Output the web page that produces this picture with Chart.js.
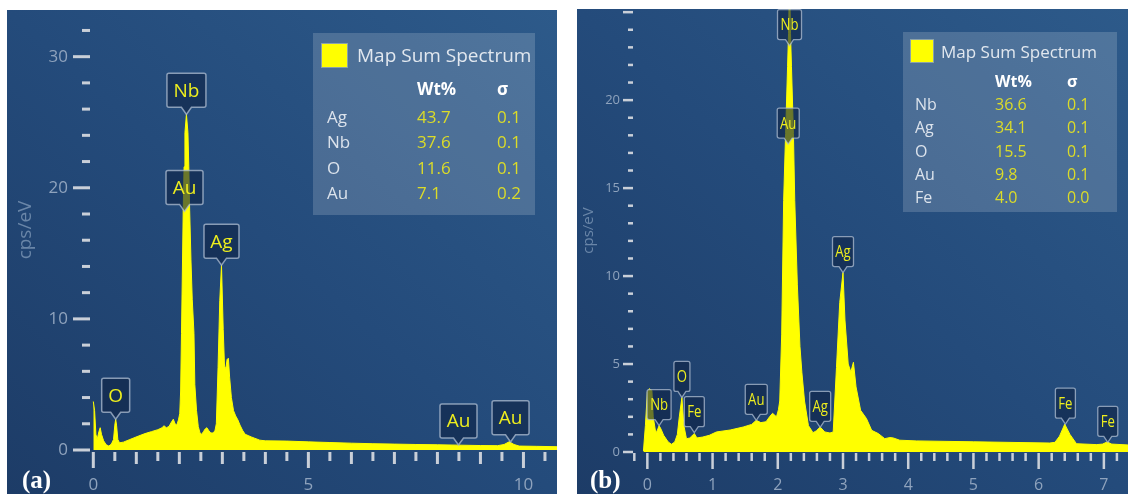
<!DOCTYPE html>
<html>
<head>
<meta charset="utf-8">
<script src="https://cdn.jsdelivr.net/npm/chart.js@4.4.1/dist/chart.umd.min.js"></script>
<style>
  html, body { margin: 0; padding: 0; background: #fff; }
  body { width: 1128px; height: 494px; position: relative; overflow: hidden; font-family: 'Open Sans', sans-serif; }
  .panel { position: absolute; overflow: hidden; background: linear-gradient(to bottom left, #2d5a8a 0%, #244b7b 50%, #1d3c67 100%); }
  .panel canvas { position: absolute; left: 0; top: 0; }
  .legend { position: absolute; background: rgba(255,255,255,0.17); }
  .legend .sw { position: absolute; background: #ffff00; box-shadow: 0 0 0 1px rgba(255,255,200,0.35); }
  .legend span { position: absolute; white-space: nowrap; transform: translateY(-50%); line-height: 1.2; }
  .legend .ttl { color: #e2e8ef; }
  .legend .hd { color: #ffffff; font-weight: bold; }
  .legend .el { color: #dce3ec; }
  .legend .val { color: #dcdc28; }
  .tag { position: absolute; font-family: 'Liberation Serif', 'DejaVu Serif', serif; font-weight: bold; color: #ffffff; white-space: nowrap; }
</style>
</head>
<body>

<div class="panel" id="pa" style="left:7px;top:10px;width:550px;height:484px;">
  <canvas id="ca" width="550" height="484"></canvas>
  <div class="legend" id="la" style="left:306px;top:23px;width:222px;height:182px;"></div>
  <div class="tag" style="left:15px;top:457px;font-size:25px;line-height:25px;">(a)</div>
</div>

<div class="panel" id="pb" style="left:577px;top:9px;width:551px;height:485px;">
  <canvas id="cb" width="551" height="485"></canvas>
  <div class="legend" id="lb" style="left:326px;top:23px;width:214px;height:180px;"></div>
  <div class="tag" style="left:13px;top:458px;font-size:25px;line-height:25px;">(b)</div>
</div>

<script>
// ---------- Spectrum (a) ----------
const energyA = [0.00, 0.03, 0.06, 0.09, 0.13, 0.16, 0.19, 0.24, 0.30, 0.36, 0.42, 0.47, 0.50, 0.52, 0.54, 0.57,
  0.61, 0.70, 0.85, 1.04, 1.20, 1.35, 1.50, 1.60, 1.64, 1.70, 1.76, 1.82, 1.86, 1.90, 1.94, 1.98,
  2.01, 2.03, 2.05, 2.07, 2.09, 2.11, 2.13, 2.165, 2.20, 2.22, 2.24, 2.27, 2.30, 2.34, 2.36, 2.40,
  2.44, 2.48, 2.52, 2.56, 2.60, 2.64, 2.68, 2.73, 2.79, 2.83, 2.86, 2.90, 2.94, 2.98, 3.02, 3.05,
  3.08, 3.11, 3.14, 3.17, 3.21, 3.26, 3.31, 3.36, 3.41, 3.47, 3.53, 3.60, 3.67, 3.75, 3.87, 4.00,
  4.50, 5.00, 5.50, 6.00, 6.50, 7.00, 7.50, 8.00, 8.50, 9.00, 9.40, 9.55, 9.67, 9.78, 9.90, 10.30, 10.80];
const cpsA = [3.7, 3.0, 1.2, 0.8, 1.4, 1.7, 1.2, 0.7, 0.4, 0.3, 0.45, 0.8, 1.9, 2.35, 1.9, 0.8,
  0.55, 0.6, 0.8, 1.05, 1.25, 1.4, 1.55, 1.7, 1.85, 1.7, 1.8, 2.15, 2.35, 2.0, 1.9, 2.3,
  2.8, 4.5, 8.9, 13.5, 18.3, 21.6, 24.2, 25.6, 24.2, 21.6, 18.3, 14.5, 11.5, 8.9, 5.0, 3.0,
  1.8, 1.3, 1.2, 1.4, 1.6, 1.7, 1.5, 1.3, 1.3, 1.5, 2.0, 6.3, 11.4, 14.1, 9.2, 6.4,
  6.2, 6.9, 7.0, 5.5, 4.0, 3.0, 2.6, 2.3, 1.9, 1.5, 1.2, 1.1, 1.0, 0.9, 0.75, 0.7,
  0.68, 0.62, 0.57, 0.52, 0.48, 0.45, 0.42, 0.40, 0.37, 0.34, 0.33, 0.42, 0.63, 0.42, 0.30, 0.28, 0.25];

// element line markers (a): name, energy (keV), height (cps/eV) of the pointer tip
const tagNamesA  = ['O', 'Nb', 'Au', 'Ag', 'Au', 'Au'];
const tagEnergyA = [0.52, 2.165, 2.12, 2.98, 8.49, 9.70];
const tagCpsA    = [2.35, 25.6, 18.2, 14.1, 0.38, 0.62];

// quantification table (a)
const tableElemA  = ['Ag', 'Nb', 'O', 'Au'];
const tableWtA    = ['43.7', '37.6', '11.6', '7.1'];
const tableSigmaA = ['0.1', '0.1', '0.1', '0.2'];

// axis labels (a)
const xLabelsA = [0, 5, 10];
const yLabelsA = [0, 10, 20, 30];

// ---------- Spectrum (b) ----------
const energyB = [-0.06, -0.03, 0.00, 0.03, 0.07, 0.09, 0.12, 0.14, 0.18, 0.21, 0.25, 0.32, 0.37, 0.42, 0.46, 0.49,
  0.53, 0.56, 0.60, 0.65, 0.68, 0.72, 0.76, 0.85, 0.95, 1.06, 1.27, 1.47, 1.60, 1.67, 1.74, 1.82,
  1.88, 1.92, 1.98, 2.01, 2.03, 2.06, 2.09, 2.12, 2.15, 2.165, 2.18, 2.195, 2.21, 2.24, 2.26, 2.30,
  2.34, 2.37, 2.41, 2.47, 2.54, 2.59, 2.65, 2.72, 2.80, 2.85, 2.90, 2.95, 3.00, 3.03, 3.08, 3.12,
  3.16, 3.20, 3.27, 3.36, 3.44, 3.54, 3.64, 3.72, 3.77, 3.87, 4.13, 5.00, 6.17, 6.25, 6.32, 6.40,
  6.48, 6.58, 6.89, 6.98, 7.05, 7.12, 7.37];
const cpsB = [0.05, 1.5, 3.4, 3.6, 3.5, 2.0, 1.3, 1.1, 1.5, 1.3, 0.95, 0.57, 0.44, 0.57, 1.0, 2.0,
  3.1, 1.5, 0.75, 0.8, 0.9, 1.05, 0.8, 0.85, 0.95, 1.14, 1.25, 1.42, 1.57, 1.8, 1.67, 1.72,
  2.03, 2.2, 2.0, 2.4, 2.9, 6.7, 14.3, 18.1, 21.9, 23.8, 27.0, 23.8, 21.9, 18.1, 14.3, 9.5,
  6.0, 4.5, 2.9, 1.5, 1.1, 1.2, 1.42, 1.14, 1.08, 1.14, 4.8, 8.5, 10.2, 7.5, 5.0, 4.55,
  5.1, 3.7, 2.37, 1.9, 1.23, 1.05, 0.76, 0.82, 0.8, 0.67, 0.63, 0.58, 0.51, 0.55, 0.9, 1.58,
  1.0, 0.47, 0.42, 0.45, 0.57, 0.45, 0.40];

// element line markers (b)
const tagNamesB  = ['Nb', 'O', 'Fe', 'Au', 'Nb', 'Au', 'Ag', 'Ag', 'Fe', 'Fe'];
const tagEnergyB = [0.18, 0.53, 0.72, 1.67, 2.18, 2.16, 2.65, 3.00, 6.41, 7.06];
const tagCpsB    = [1.5, 3.1, 1.1, 1.8, 23.1, 17.5, 1.4, 10.2, 1.58, 0.55];

// quantification table (b)
const tableElemB  = ['Nb', 'Ag', 'O', 'Au', 'Fe'];
const tableWtB    = ['36.6', '34.1', '15.5', '9.8', '4.0'];
const tableSigmaB = ['0.1', '0.1', '0.1', '0.1', '0.0'];

// axis labels (b)
const xLabelsB = [0, 1, 2, 3, 4, 5, 6, 7];
const yLabelsB = [0, 5, 10, 15, 20];

// ---------- shared styling ----------
const FONT = "'Open Sans', 'Noto Sans', sans-serif";
const TICK_LABEL = '#8fa3bd';
const TITLE_COLOR = '#6a86a8';
const TICK_MARK = '#c9cfd8';
const SPECTRUM = '#ffff00';

function tickMarksPlugin(cfg) {
  return {
    id: 'tickMarks',
    afterDraw(chart) {
      const { ctx, chartArea: a, scales: { x, y } } = chart;
      ctx.save();
      ctx.fillStyle = TICK_MARK;
      x.ticks.forEach(t => {
        const px = x.getPixelForValue(t.value);
        const len = cfg.xTickLen(t.value);
        ctx.fillRect(px - cfg.xTickW / 2, a.bottom + cfg.xTickGap, cfg.xTickW, len);
      });
      y.ticks.forEach(t => {
        const py = y.getPixelForValue(t.value);
        const len = cfg.yTickLen(t.value);
        ctx.fillRect(a.left - len, py - cfg.yTickW / 2, len, cfg.yTickW);
      });
      ctx.restore();
    }
  };
}

function drawTag(ctx, x, y, text, st) {
  ctx.save();
  ctx.font = st.font;
  const tw = ctx.measureText(text).width * st.sx;
  const w = Math.round(tw + 2 * st.padX), h = st.h;
  const bottom = y - st.ph, top = bottom - h;
  const left = x - w / 2, right = x + w / 2, r = 2;
  ctx.beginPath();
  ctx.moveTo(left + r, top);
  ctx.lineTo(right - r, top);
  ctx.quadraticCurveTo(right, top, right, top + r);
  ctx.lineTo(right, bottom - r);
  ctx.quadraticCurveTo(right, bottom, right - r, bottom);
  ctx.lineTo(x + st.pw, bottom);
  ctx.lineTo(x, y);
  ctx.lineTo(x - st.pw, bottom);
  ctx.lineTo(left + r, bottom);
  ctx.quadraticCurveTo(left, bottom, left, bottom - r);
  ctx.lineTo(left, top + r);
  ctx.quadraticCurveTo(left, top, left + r, top);
  ctx.closePath();
  ctx.fillStyle = 'rgba(14, 36, 70, 0.62)';
  ctx.fill();
  ctx.strokeStyle = 'rgba(175, 190, 210, 0.75)';
  ctx.lineWidth = st.lw;
  ctx.stroke();
  ctx.fillStyle = '#eeee1e';
  ctx.textAlign = 'center';
  ctx.textBaseline = 'middle';
  ctx.translate(x, top + h / 2 + 1);
  ctx.scale(st.sx, 1);
  ctx.fillText(text, 0, 0);
  ctx.restore();
}

function tagsPlugin(cfg) {
  return {
    id: 'lineTags',
    afterDatasetsDraw(chart) {
      const { ctx, scales: { x, y } } = chart;
      cfg.tagNames.forEach((name, i) => {
        drawTag(ctx, x.getPixelForValue(cfg.tagEnergy[i]), y.getPixelForValue(cfg.tagCps[i]), name, cfg.tagStyle);
      });
    }
  };
}

function makeChart(canvasId, cfg) {
  const points = cfg.energy.map((e, i) => ({ x: e, y: cfg.cps[i] }));
  return new Chart(document.getElementById(canvasId), {
    type: 'line',
    data: {
      datasets: [{
        label: 'Map Sum Spectrum',
        data: points,
        fill: 'origin',
        backgroundColor: SPECTRUM,
        borderColor: SPECTRUM,
        borderWidth: 1,
        pointRadius: 0,
        tension: 0
      }]
    },
    options: {
      responsive: false,
      animation: false,
      devicePixelRatio: 1,
      layout: { padding: 0 },
      plugins: { legend: { display: false }, tooltip: { enabled: false } },
      scales: {
        x: {
          type: 'linear',
          min: cfg.xMin, max: cfg.xMax,
          grid: { display: false, drawTicks: false },
          border: { display: false },
          ticks: {
            stepSize: cfg.xStep, autoSkip: false, includeBounds: false,
            maxRotation: 0, minRotation: 0,
            padding: cfg.xPad, color: TICK_LABEL,
            font: { family: FONT, size: cfg.xFont },
            callback: v => cfg.xLabels.includes(v) ? String(v) : ''
          },
          afterFit: s => { s.height = cfg.bottomH; s.paddingLeft = 0; s.paddingRight = 0; }
        },
        y: {
          type: 'linear',
          min: 0, max: cfg.yMax,
          grid: { display: false, drawTicks: false },
          border: { display: false },
          ticks: {
            stepSize: cfg.yStep, autoSkip: false, includeBounds: false,
            padding: cfg.yPad, color: TICK_LABEL,
            font: { family: FONT, size: cfg.yFont },
            callback: v => cfg.yLabels.includes(v) ? String(v) : ''
          },
          title: {
            display: true, text: 'cps/eV', color: TITLE_COLOR,
            font: { family: FONT, size: cfg.titleFont },
            padding: { top: cfg.titlePad, bottom: 0 }
          },
          afterFit: s => { s.width = cfg.leftW; s.paddingTop = 0; s.paddingBottom = 0; }
        }
      }
    },
    plugins: [tickMarksPlugin(cfg), tagsPlugin(cfg)]
  });
}

function buildLegend(id, L) {
  const box = document.getElementById(id);
  const sw = document.createElement('div');
  sw.className = 'sw';
  Object.assign(sw.style, { left: L.sw[0] + 'px', top: L.sw[1] + 'px', width: L.sw[2] + 'px', height: L.sw[3] + 'px' });
  box.appendChild(sw);
  const add = (txt, x, y, cls, size) => {
    const s = document.createElement('span');
    s.className = cls;
    s.textContent = txt;
    s.style.left = x + 'px';
    s.style.top = y + 'px';
    s.style.fontSize = size + 'px';
    box.appendChild(s);
  };
  add('Map Sum Spectrum', L.titleX, L.titleY, 'ttl', L.titleSize);
  add('Wt%', L.wtX, L.headY, 'hd', L.size);
  add('σ', L.sgX, L.headY, 'hd', L.size);
  L.names.forEach((n, i) => {
    const y = L.rowY0 + i * L.rowStep;
    add(n, L.elX, y, 'el', L.size);
    add(L.wt[i], L.wtX, y, 'val', L.size);
    add(L.sigma[i], L.sgX, y, 'val', L.size);
  });
}

// panel (a)
makeChart('ca', {
  energy: energyA, cps: cpsA,
  xMin: -0.077, xMax: 10.78, xStep: 0.5, xLabels: xLabelsA, xFont: 17, xPad: 25,
  yMax: 33.56, yStep: 2, yLabels: yLabelsA, yFont: 17, yPad: 22,
  titleFont: 19, titlePad: 7,
  leftW: 83, bottomH: 44,
  xTickW: 3, xTickGap: 2, yTickW: 3,
  xTickLen: v => (v % 5 === 0 ? 16 : (Number.isInteger(v) ? 12 : 9)),
  yTickLen: v => (v % 10 === 0 ? 17 : 8),
  tagNames: tagNamesA, tagEnergy: tagEnergyA, tagCps: tagCpsA,
  tagStyle: { font: `19px ${FONT}`, sx: 1, padX: 6.5, h: 34, ph: 7, pw: 5, lw: 1.5 }
});

// panel (b)
makeChart('cb', {
  energy: energyB, cps: cpsB,
  xMin: -0.22, xMax: 7.37, xStep: 0.2, xLabels: xLabelsB, xFont: 16, xPad: 24,
  yMax: 25.18, yStep: 1, yLabels: yLabelsB, yFont: 13, yPad: 13,
  titleFont: 15, titlePad: 3,
  leftW: 56, bottomH: 42,
  xTickW: 2.5, xTickGap: 1, yTickW: 2.5,
  xTickLen: v => (Number.isInteger(v) ? 16 : 8),
  yTickLen: v => (v % 5 === 0 ? 10 : 5),
  tagNames: tagNamesB, tagEnergy: tagEnergyB, tagCps: tagCpsB,
  tagStyle: { font: `16px ${FONT}`, sx: 0.82, padX: 3, h: 30, ph: 6, pw: 4, lw: 1.3 }
});

buildLegend('la', {
  sw: [9, 11, 25, 23], titleX: 44, titleY: 22, titleSize: 19,
  headY: 56, wtX: 104, sgX: 184, elX: 14, rowY0: 84, rowStep: 25.3, size: 17,
  names: tableElemA, wt: tableWtA, sigma: tableSigmaA
});
buildLegend('lb', {
  sw: [8, 8, 22, 22], titleX: 38, titleY: 20, titleSize: 17,
  headY: 50, wtX: 92, sgX: 164, elX: 12, rowY0: 73, rowStep: 23.25, size: 16,
  names: tableElemB, wt: tableWtB, sigma: tableSigmaB
});
</script>
</body>
</html>
